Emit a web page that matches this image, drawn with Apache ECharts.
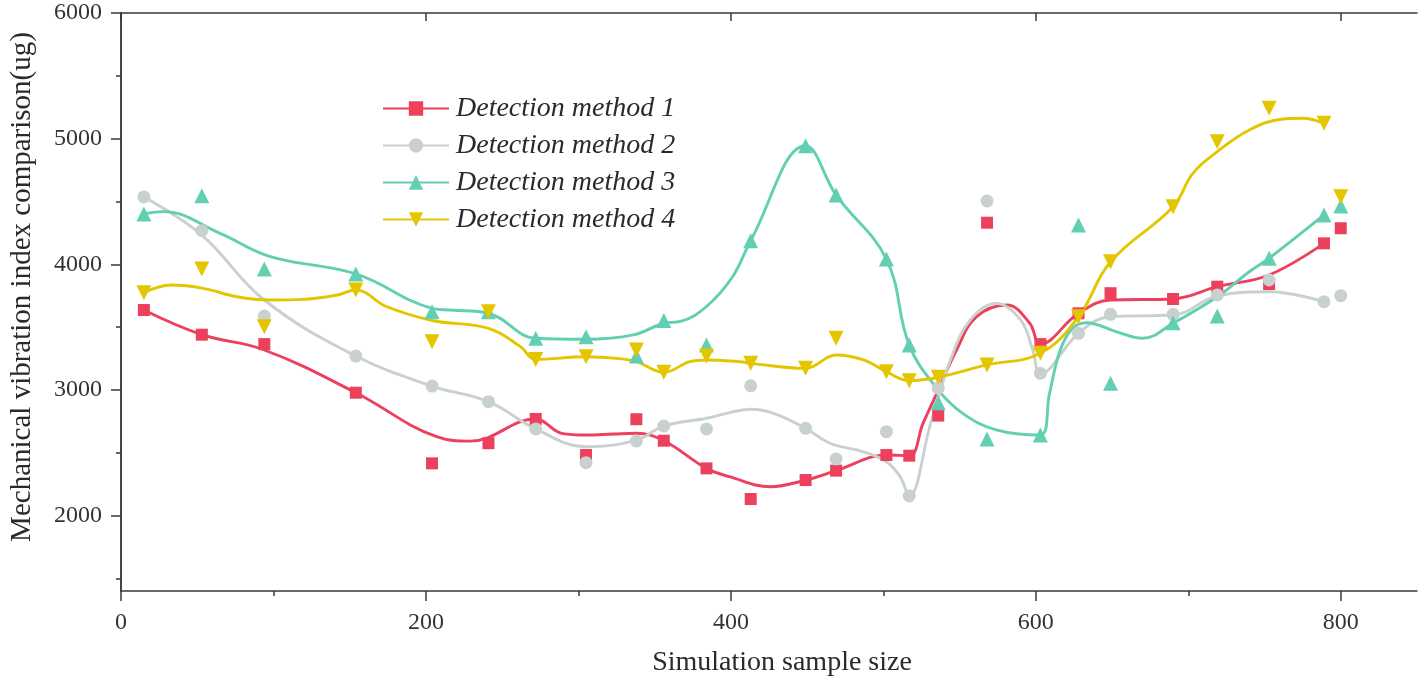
<!DOCTYPE html>
<html><head><meta charset="utf-8">
<script src="https://cdn.jsdelivr.net/npm/echarts@6/dist/echarts.min.js"></script>
<style>html,body{margin:0;padding:0;background:#fff}#c{width:1419px;height:682px}</style>
</head><body><div id="c"></div>
<script>
// ---- data ----
const names = ['Detection method 1','Detection method 2','Detection method 3','Detection method 4'];
const sampleSizes = [15,53,94,154,204,241,272,305,338,356,384,413,449,469,502,517,536,568,603,628,649,690,719,753,789,800];
const method1 = [3636,3440,3365,2978,2416,2576,2769,2482,2767,2596,2376,2132,2283,2358,2482,2477,2796,4331,3365,3610,3770,3724,3822,3843,4167,4287];
const method2 = [4536,4267,3588,3270,3031,2907,2690,2421,2593,2713,2690,3033,2695,2451,2668,2156,3014,4504,3132,3451,3602,3602,3756,3875,3702,3750];
const method3 = [4401,4546,3963,3923,3623,3623,3411,3424,3270,3552,3357,4188,4944,4551,4042,3357,2899,2609,2641,4313,3053,3535,3588,4048,4393,4464];
const method4 = [3774,3963,3503,3795,3384,3623,3243,3264,3318,3140,3270,3212,3172,3411,3145,3074,3101,3199,3292,3583,4020,4458,4975,5242,5122,4538];

// fitted curves
const curve1X = [15,53,94,154,207,229,272,289,305,323,338,356,384,399,426,449,469,502,517,526,535,548,561,581,596,603,628,649,690,719,753,789];
const curve1Y = [3636,3440,3318,2978,2628,2593,2769,2655,2641,2649,2655,2596,2376,2310,2230,2283,2358,2482,2477,2734,2973,3318,3582,3676,3531,3365,3610,3716,3724,3822,3915,4167];
const curve2X = [15,53,94,154,204,241,272,305,338,356,384,400,413,428,449,465,487,502,511,517,531,544,557,574,590,598,603,628,649,690,719,753,789];
const curve2Y = [4536,4233,3716,3270,3031,2907,2690,2548,2601,2713,2775,2822,2846,2814,2695,2576,2508,2429,2310,2156,2734,3239,3557,3689,3557,3318,3132,3451,3583,3596,3748,3782,3702];
const curve3X = [15,28,65,98,154,204,216,241,272,305,336,356,367,384,401,413,449,469,502,517,536,552,574,603,609,616,624,633,653,670,690,719,740,753,789];
const curve3Y = [4401,4419,4246,4061,3923,3650,3636,3610,3411,3403,3438,3531,3545,3664,3899,4188,4944,4551,4042,3357,3000,2814,2682,2641,2973,3318,3490,3535,3463,3411,3531,3742,3941,4048,4393];
const curve4X = [15,33,54,76,98,120,142,154,174,204,241,262,272,305,325,338,356,373,384,406,413,449,469,487,502,517,536,568,603,628,649,690,703,719,740,761,775,789];
const curve4Y = [3774,3835,3809,3742,3716,3721,3756,3795,3664,3553,3490,3345,3243,3264,3251,3225,3140,3225,3239,3225,3212,3172,3278,3239,3145,3074,3101,3199,3292,3583,4020,4458,4724,4896,5069,5154,5162,5122];

const xMajor = [0,200,400,600,800];
const xMinor = [100,300,500,700];
const yMajor = [2000,3000,4000,5000,6000];
const yMinor = [1500,2500,3500,4500,5500];

const colors = ['#EC405C','#C9D1CF','#62CFB3','#E4C600'];
const symbols = ['rect','circle','triangle','triangle'];
const symbolSizes = [12,13,15,15];
const rotates = [0,0,0,180];

const zip = (xs, ys) => xs.map((x,i)=>[x, ys[i]]);
const pointSets = [method1, method2, method3, method4];
const curveSets = [[curve1X,curve1Y],[curve2X,curve2Y],[curve3X,curve3Y],[curve4X,curve4Y]];

const axisColor = '#3a3a3a';
const font = 'Liberation Serif';
const lineStyleAxis = {color: axisColor, width: 1.5};
const plain = v => String(v);

const series = [];
curveSets.forEach((c,i)=>{
  series.push({
    name: names[i], type:'line', data: zip(c[0], c[1]), smooth: 0.4,
    showSymbol:false, symbol: symbols[i], symbolRotate: rotates[i], symbolSize: symbolSizes[i],
    lineStyle:{color: colors[i], width: 2.9}, itemStyle:{color: colors[i]},
    z: 2, silent:true
  });
});
pointSets.forEach((p,i)=>{
  series.push({
    name: names[i], type:'scatter', data: zip(sampleSizes, p),
    symbol: symbols[i], symbolRotate: rotates[i], symbolSize: symbolSizes[i],
    itemStyle:{color: colors[i], opacity:1}, z: 3, silent:true
  });
});

const chart = echarts.init(document.getElementById('c'), null, {renderer:'canvas'});
chart.setOption({
  animation:false,
  backgroundColor:'#fff',
  grid:{left:120, right:2, top:13, bottom:91, containLabel:false},
  legend:{
    data: names, orient:'vertical', left:382, top:93.5, padding:0,
    itemWidth:66, itemHeight:18, itemGap:7,
    textStyle:{fontFamily:font, fontStyle:'italic', fontSize:28, color:'#2a2a2a', lineHeight:30, padding:[0,0,0,2]},
    selectedMode:false
  },
  xAxis:[
    {type:'value', min:0, max:850, position:'bottom',
     axisLine:{show:true, lineStyle:lineStyleAxis},
     axisTick:{show:true, inside:false, length:10, customValues:xMajor, lineStyle:lineStyleAxis},
     axisLabel:{show:true, customValues:xMajor, formatter:plain, fontFamily:font, fontSize:24, color:'#333', margin:20},
     splitLine:{show:false},
     name:'Simulation sample size', nameLocation:'middle', nameGap:58,
     nameTextStyle:{fontFamily:font, fontSize:28, color:'#2a2a2a', padding:[0,0,0,26]}},
    {type:'value', min:0, max:850, position:'bottom',
     axisLine:{show:false}, axisTick:{show:true, inside:false, length:5, customValues:xMinor, lineStyle:lineStyleAxis},
     axisLabel:{show:false}, splitLine:{show:false}},
    {type:'value', min:0, max:850, position:'top',
     axisLine:{show:true, lineStyle:lineStyleAxis}, axisTick:{show:true, inside:true, length:8, customValues:xMajor, lineStyle:lineStyleAxis},
     axisLabel:{show:false}, splitLine:{show:false}}
  ],
  yAxis:[
    {type:'value', min:1400, max:6000, position:'left',
     axisLine:{show:true, lineStyle:lineStyleAxis},
     axisTick:{show:true, inside:false, length:10, customValues:yMajor, lineStyle:lineStyleAxis},
     axisLabel:{show:true, customValues:yMajor, formatter:plain, fontFamily:font, fontSize:24, color:'#333', margin:19},
     splitLine:{show:false},
     name:'Mechanical vibration index comparison(ug)', nameLocation:'middle', nameGap:84,
     nameTextStyle:{fontFamily:font, fontSize:29, color:'#2a2a2a', padding:[0,0,0,30]}},
    {type:'value', min:1400, max:6000, position:'left',
     axisLine:{show:false}, axisTick:{show:true, inside:false, length:5, customValues:yMinor, lineStyle:lineStyleAxis},
     axisLabel:{show:false}, splitLine:{show:false}},
    {type:'value', min:1400, max:6000, position:'right',
     axisLine:{show:true, lineStyle:lineStyleAxis}, axisTick:{show:true, inside:true, length:5, customValues:yMajor.concat(yMinor), lineStyle:lineStyleAxis},
     axisLabel:{show:false}, splitLine:{show:false}}
  ],
  series: series
});
</script></body></html>
